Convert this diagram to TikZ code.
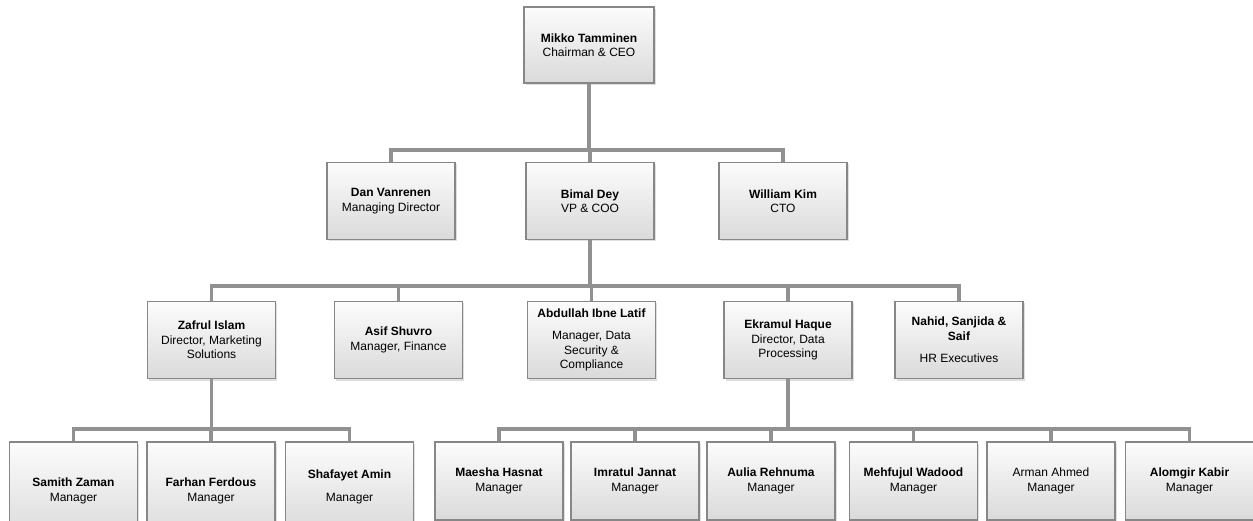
\documentclass[tikz,border=0pt]{standalone}
\usepackage{fontspec}
\setmainfont{Liberation Sans}
\usetikzlibrary{shadows}
\definecolor{color_line}{RGB}{145,145,145}
\definecolor{color_edge}{RGB}{135,135,135}
\definecolor{color_top}{RGB}{252,252,252}
\definecolor{color_bottom}{RGB}{218,218,218}

\begin{document}
\begin{tikzpicture}[x=1pt,y=-1pt,
  post/.style={draw=color_edge, line width=1.2pt, top color=color_top,
    bottom color=color_bottom, minimum width=128pt, minimum height=77pt,
    align=center, inner sep=2pt, font=\fontsize{12}{14.5}\selectfont,
    drop shadow={shadow xshift=1.5pt, shadow yshift=-2pt, opacity=0.25}},
  post low/.style={post, minimum height=98pt},
  post right/.style={post, minimum height=78pt},
  conn/.style={draw=color_line, line width=3.4pt}]

  \useasboundingbox[fill=white] (0,0) rectangle (1253,521);

  % CHAIRMAN
  \node[post, minimum width=130pt, minimum height=76pt] (ceo) at (589,45)
    {\textbf{Mikko Tamminen}\\Chairman \& CEO};

  % LEVEL 1
  \node[post] (dan) at (391,201) {\textbf{Dan Vanrenen}\\Managing Director};
  \node[post] (bimal) at (590,201) {\textbf{Bimal Dey}\\VP \& COO};
  \node[post] (william) at (783,201) {\textbf{William Kim}\\CTO};

  % LEVEL 2
  \node[post] (zafrul) at (211.5,340)
    {\textbf{Zafrul Islam}\\Director, Marketing\\Solutions};
  \node[post] (asif) at (398.5,340) {\textbf{Asif Shuvro}\\Manager, Finance};
  \node[post] (abdullah) at (591.5,340)
    {\textbf{Abdullah Ibne Latif}\\[8pt]Manager, Data\\Security \&\\Compliance};
  \node[post] (ekramul) at (788,340)
    {\textbf{Ekramul Haque}\\Director, Data\\Processing};
  \node[post] (nahid) at (959,340)
    {\textbf{Nahid, Sanjida \&}\\\textbf{Saif}\\[8pt]HR Executives};

  % LEVEL 3: MARKETING
  \node[post low] (samith) at (73.5,491) {\textbf{Samith Zaman}\\Manager};
  \node[post low] (farhan) at (211,491) {\textbf{Farhan Ferdous}\\Manager};
  \node[post, minimum height=90pt] (shafayet) at (349.5,487)
    {\textbf{Shafayet Amin}\\[8pt]Manager};

  % LEVEL 3: DATA PROCESSING
  \node[post right] (maesha) at (499,481) {\textbf{Maesha Hasnat}\\Manager};
  \node[post right] (imratul) at (635,481) {\textbf{Imratul Jannat}\\Manager};
  \node[post right] (aulia) at (771,481) {\textbf{Aulia Rehnuma}\\Manager};
  \node[post right] (mehfujul) at (913.5,481) {\textbf{Mehfujul Wadood}\\Manager};
  \node[post right] (arman) at (1051,481) {Arman Ahmed\\Manager};
  \node[post right] (alomgir) at (1189.5,481) {\textbf{Alomgir Kabir}\\Manager};

  % BARS
  \coordinate (bar1) at (0,150);
  \coordinate (bar2) at (0,286);
  \coordinate (bar3) at (0,429);

  % CONNECTORS
  \foreach \child in {dan,bimal,william}
    \draw[conn] (ceo.south) -- (ceo.south |- bar1) -| (\child.north);
  \foreach \child in {zafrul,asif,abdullah,ekramul,nahid}
    \draw[conn] (bimal.south) -- (bimal.south |- bar2) -| (\child.north);
  \foreach \child in {samith,farhan,shafayet}
    \draw[conn] (zafrul.south) -- (zafrul.south |- bar3) -| (\child.north);
  \foreach \child in {maesha,imratul,aulia,mehfujul,arman,alomgir}
    \draw[conn] (ekramul.south) -- (ekramul.south |- bar3) -| (\child.north);

\end{tikzpicture}
\end{document}
